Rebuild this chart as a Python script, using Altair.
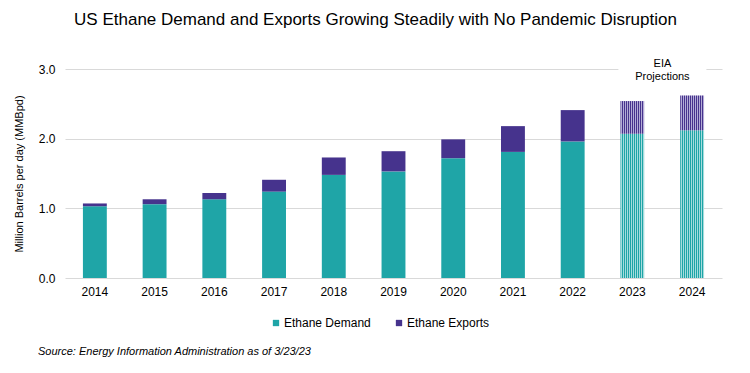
import altair as alt
import pandas as pd

years = ["2014", "2015", "2016", "2017", "2018", "2019", "2020", "2021", "2022", "2023", "2024"]
demand = [1.03, 1.06, 1.13, 1.24, 1.48, 1.53, 1.72, 1.81, 1.96, 2.07, 2.12]
exports = [0.04, 0.07, 0.09, 0.17, 0.25, 0.29, 0.27, 0.37, 0.45, 0.47, 0.50]
projected = [False] * 9 + [True] * 2
series = ["Ethane Demand", "Ethane Exports"]

TEAL = "#1fa5a7"
PURPLE = "#46338d"
TEAL_LIGHT = "#a6dcdd"
PURPLE_LIGHT = "#b4acd6"
FONT = "Liberation Sans"

df = pd.DataFrame({"year": years, "demand": demand, "exports": exports, "proj": projected})
df["total"] = df["demand"] + df["exports"]
df["zero"] = 0.0

hist = df[~df["proj"]]
proj = df[df["proj"]]


def stripes(color, light, n=12):
    stops = []
    for i in range(n):
        a = i / n
        b = (i + 0.5) / n
        c = (i + 1) / n
        stops += [
            alt.GradientStop(offset=a, color=color),
            alt.GradientStop(offset=b, color=color),
            alt.GradientStop(offset=b, color=light),
            alt.GradientStop(offset=c, color=light),
        ]
    return alt.Gradient(gradient="linear", stops=stops, x1=0, x2=1, y1=0, y2=0)


xenc = alt.X(
    "year:O",
    sort=years,
    scale=alt.Scale(domain=years, paddingInner=0.6, paddingOuter=0.3),
    axis=alt.Axis(title=None, labelAngle=0, ticks=False, domain=False, labelPadding=8,
                  labelFontSize=12, labelFont=FONT, labelColor="#000000"),
)
yscale = alt.Scale(domain=[0, 3])
yaxis = alt.Axis(
    title="Million Barrels per day (MMBpd)", values=[0, 1, 2, 3], format=".1f",
    ticks=False, domain=False, gridColor="#d9d9d9", gridWidth=1, labelPadding=10,
    labelFontSize=12, labelFont=FONT, labelColor="#000000",
    titleFontSize=11, titleFont=FONT, titleFontWeight="normal", titleColor="#000000",
    titlePadding=14,
)
color_scale = alt.Scale(domain=series, range=[TEAL, PURPLE])
legend = alt.Legend(
    title=None, orient="none", legendX=205, legendY=248, direction="horizontal",
    symbolType="square", symbolSize=40, symbolStrokeWidth=0, labelFontSize=12,
    labelFont=FONT, labelColor="#000000", columnPadding=22, labelOffset=2,
)
cenc = alt.Color("s:N", scale=color_scale, legend=legend)

base_h = alt.Chart(hist)
demand_h = base_h.mark_bar().transform_calculate(s="'Ethane Demand'").encode(
    x=xenc,
    y=alt.Y("zero:Q", scale=yscale, axis=yaxis),
    y2="demand:Q",
    color=cenc,
)
exports_h = base_h.mark_bar().transform_calculate(s="'Ethane Exports'").encode(
    x=xenc,
    y=alt.Y("demand:Q", scale=yscale, axis=yaxis),
    y2="total:Q",
    color=cenc,
)

base_p = alt.Chart(proj)
demand_p = base_p.mark_bar(fill=stripes(TEAL, TEAL_LIGHT)).encode(
    x=xenc, y=alt.Y("zero:Q", scale=yscale, axis=yaxis), y2="demand:Q"
)
exports_p = base_p.mark_bar(fill=stripes(PURPLE, PURPLE_LIGHT)).encode(
    x=xenc, y=alt.Y("demand:Q", scale=yscale, axis=yaxis), y2="total:Q"
)

ann_df = pd.DataFrame({"year": ["2023"], "lo": [2.8], "hi": [3.2], "mid": [3.0]})
ann_box = alt.Chart(ann_df).mark_bar(color="#ffffff", width=88, xOffset=30).encode(
    x=xenc, y=alt.Y("lo:Q", scale=yscale, axis=yaxis), y2="hi:Q"
)
ann_text = alt.Chart(ann_df).mark_text(
    text=["EIA", "Projections"], font=FONT, fontSize=11, color="#000000",
    xOffset=30, baseline="middle", lineHeight=13, dy=-5,
).encode(x=xenc, y=alt.Y("mid:Q", scale=yscale, axis=yaxis))

src_df = pd.DataFrame({"t": ["Source: Energy Information Administration as of 3/23/23"]})
source = alt.Chart(src_df).mark_text(
    font=FONT, fontSize=11, fontStyle="italic", align="left", baseline="middle", color="#000000"
).encode(text="t:N", x=alt.value(-27), y=alt.value(283))

chart = alt.layer(demand_h, exports_h, demand_p, exports_p, ann_box, ann_text, source).properties(
    width=657,
    height=209,
    autosize=alt.AutoSizeParams(type="none"),
    padding={"left": 57, "top": 61, "right": 20, "bottom": 87},
    title=alt.TitleParams(
        "US Ethane Demand and Exports Growing Steadily with No Pandemic Disruption",
        font=FONT, fontSize=17, fontWeight="normal", color="#000000",
        anchor="middle", dx=-18, offset=26,
    ),
).configure_view(stroke=None).configure_axisX(grid=False)

chart.save("out.html", embed_options={"renderer": "svg", "actions": False})
